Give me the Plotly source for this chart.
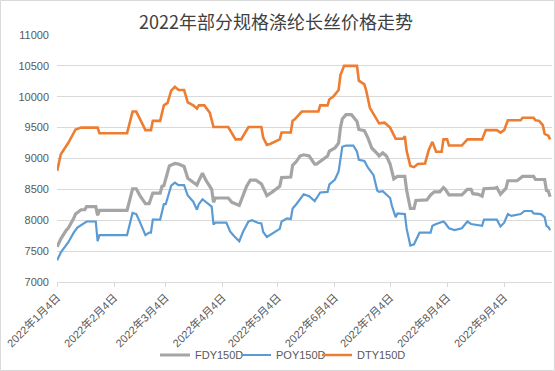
import plotly.graph_objects as go

YEAR = "2022-"

FDY_DATES = ["01-04","01-06","01-09","01-10","01-13","01-14","01-17","01-19","01-20","01-25","01-26","01-27",
             "02-11","02-14","02-16","02-18","02-21","02-23","02-25","03-01","03-02","03-03","03-06","03-09",
             "03-11","03-14","03-16","03-18","03-21","03-22","03-24","03-26","03-28","03-29","03-30","03-31",
             "04-07","04-09","04-13","04-14","04-17","04-19","04-22","04-25","04-28","05-01","05-05","05-06",
             "05-11","05-12","05-14","05-16","05-18","05-21","05-24","05-25","05-28","05-31","06-01","06-04",
             "06-06","06-07","06-08","06-10","06-13","06-15","06-16","06-17","06-20","06-22","06-24","06-27",
             "06-28","06-30","07-02","07-04","07-06","07-08","07-12","07-13","07-15","07-17","07-18","07-24",
             "07-26","07-28","07-31","08-02","08-03","08-05","08-12","08-15","08-17","08-18","08-21","08-23",
             "08-24","08-30","08-31","09-02","09-05","09-06","09-11","09-14","09-20","09-21","09-26","09-27",
             "09-28","09-29"]
FDY_VALUES = [7570,7700,7840,7870,8030,8100,8170,8170,8220,8220,8080,8160,
              8160,8510,8510,8400,8270,8270,8440,8440,8550,8560,8880,8920,
              8910,8870,8680,8640,8570,8640,8760,8640,8550,8500,8290,8360,
              8360,8290,8240,8320,8550,8650,8650,8590,8400,8460,8550,8690,
              8700,8890,8950,9040,9060,9040,8910,8910,8980,9040,9120,9170,
              9250,9500,9640,9710,9710,9630,9600,9470,9450,9330,9170,9080,
              9040,9090,9040,8910,8670,8710,8710,8480,8190,8190,8320,8330,
              8410,8460,8460,8530,8500,8410,8410,8500,8500,8430,8420,8390,
              8510,8520,8530,8420,8520,8640,8640,8710,8710,8660,8660,8480,
              8470,8380]

POY_DATES = ["01-04","01-06","01-10","01-13","01-15","01-17","01-20","01-25","01-26","01-27",
             "02-11","02-14","02-16","02-18","02-21","02-23","02-24","02-25","03-01","03-03","03-04",
             "03-07","03-09","03-11","03-14","03-16","03-19","03-21","03-22","03-24","03-26","03-29",
             "03-30","03-31","04-06","04-08","04-10","04-13","04-15","04-18","04-20","04-23","04-25",
             "04-26","04-28","05-01","05-05","05-06","05-09","05-11","05-12","05-14","05-18","05-21",
             "05-24","05-27","05-31","06-01","06-04","06-06","06-07","06-08","06-10","06-14","06-16",
             "06-17","06-20","06-22","06-25","06-27","06-28","06-30","07-04","07-05","07-07","07-08",
             "07-12","07-13","07-15","07-17","07-20","07-26","07-27","07-29","08-02","08-03","08-05",
             "08-08","08-12","08-15","08-17","08-23","08-24","08-31","09-02","09-04","09-06","09-08",
             "09-13","09-15","09-19","09-20","09-24","09-26","09-27","09-28","09-29"]
POY_VALUES = [7350,7480,7640,7800,7880,7920,7980,7980,7660,7760,
              7760,8120,8100,7970,7760,7800,7800,8010,8010,8260,8260,
              8560,8610,8570,8570,8400,8300,8170,8260,8340,8290,8220,
              7930,7960,7960,7820,7750,7660,7810,7980,8000,7960,7950,
              7810,7730,7780,7860,7980,8030,8020,8190,8260,8420,8390,
              8310,8450,8460,8580,8660,8790,8980,9190,9210,9210,9110,
              8980,8960,8850,8730,8480,8460,8470,8360,8230,8050,8110,
              8100,7860,7590,7610,7800,7800,7910,7940,7980,7950,7870,
              7840,7870,7980,7940,7910,8010,8010,7900,7960,8100,8070,
              8100,8150,8150,8110,8100,8050,7910,7890,7840]

DTY_DATES = ["01-04","01-06","01-10","01-12","01-14","01-17","01-26","01-27","02-11","02-14","02-16",
             "02-19","02-21","02-24","02-25","03-01","03-03","03-05","03-07","03-09","03-11","03-14",
             "03-16","03-19","03-21","03-22","03-25","03-28","03-30","04-07","04-09","04-11","04-14",
             "04-18","04-25","04-26","04-28","04-30","05-05","05-06","05-11","05-12","05-13","05-17",
             "05-26","05-27","05-31","06-01","06-03","06-06","06-07","06-09","06-16","06-17","06-20",
             "06-21","06-23","06-26","06-28","07-01","07-04","07-07","07-11","07-12","07-13","07-15",
             "07-17","07-19","07-23","07-25","07-27","07-29","08-01","08-02","08-04","08-05","08-12",
             "08-15","08-23","08-25","08-31","09-02","09-04","09-06","09-13","09-14","09-20","09-21",
             "09-23","09-25","09-26","09-28","09-29"]
DTY_VALUES = [8800,9070,9250,9370,9470,9500,9500,9410,9410,9760,9760,
              9580,9460,9460,9610,9610,9860,9900,10100,10160,10110,10110,
              9910,9860,9810,9860,9860,9740,9510,9510,9410,9310,9310,
              9510,9510,9340,9220,9240,9310,9420,9420,9610,9630,9760,
              9760,9860,9860,9960,10000,10110,10350,10500,10500,10260,10200,
              10100,9820,9680,9570,9580,9500,9320,9320,9360,9120,8880,
              8860,8910,8920,9140,9270,9110,9110,9310,9310,9210,9210,
              9310,9310,9460,9460,9420,9460,9620,9620,9660,9660,9620,
              9610,9540,9400,9370,9310]

SERIES = [
    ("FDY150D", FDY_DATES, FDY_VALUES, "#A5A5A5", 3.2),
    ("POY150D", POY_DATES, POY_VALUES, "#5B9BD5", 2.2),
    ("DTY150D", DTY_DATES, DTY_VALUES, "#ED7D31", 2.6),
]

TICK_DATES = ["2022-01-04", "2022-02-04", "2022-03-04", "2022-04-04", "2022-05-04",
              "2022-06-04", "2022-07-04", "2022-08-04", "2022-09-04"]

TITLE = "2022年部分规格涤纶长丝价格走势"
FONT = "Liberation Sans, Arial, Noto Sans CJK SC, sans-serif"

fig = go.Figure()
for name, dates, vals, color, width in SERIES:
    fig.add_trace(go.Scatter(
        x=[YEAR + d for d in dates], y=vals, name=name, mode="lines",
        line=dict(color=color, width=width, shape="linear"),
        hoverinfo="skip",
    ))
# empty legend spacer so the last legend label is not clipped
fig.add_trace(go.Scatter(x=[None], y=[None], name="", mode="lines",
                         line=dict(color="rgba(0,0,0,0)", width=0), hoverinfo="skip"))

W, H = 555, 371
L, R, T, B = 57, 3, 35, 89
pw, ph = W - L - R, H - T - B

fig.update_layout(
    template="none",
    width=W, height=H,
    margin=dict(l=L, r=R, t=T, b=B, autoexpand=False),
    paper_bgcolor="white", plot_bgcolor="white",
    title=dict(text=TITLE, x=276 / W, xref="container", xanchor="center", y=1 - 23 / H, yref="container",
               yanchor="middle",
               font=dict(family="Noto Sans CJK SC, sans-serif", size=18, color="#404040")),
    showlegend=True,
    legend=dict(orientation="h", x=(155 - L) / pw, xanchor="left", y=(282 - 355) / ph,
                yanchor="middle", bgcolor="rgba(0,0,0,0)",
                font=dict(family=FONT, size=11, color="#595959"), itemwidth=30,
                entrywidth=36, entrywidthmode="pixels"),
    xaxis=dict(
        type="date", range=["2022-01-03 22:00", "2022-09-30"],
        tickmode="array", tickvals=TICK_DATES, tickformat="%Y年%-m月%-d日",
        tickangle=-45, ticks="outside", ticklen=4, tickcolor="#d9d9d9",
        ticklabeloverflow="allow",
        showline=True, linecolor="#d9d9d9", linewidth=1,
        showgrid=False, zeroline=False, automargin=False,
        tickfont=dict(family=FONT, size=11, color="#595959"),
    ),
    yaxis=dict(
        range=[7000, 11000], dtick=500, tick0=7000, tickformat="d",
        showgrid=True, gridcolor="#d9d9d9", gridwidth=1,
        showline=False, zeroline=False, ticks="", automargin=False,
        ticklabelstandoff=7,
        tickfont=dict(family=FONT, size=11, color="#595959"),
    ),
    shapes=[dict(type="rect", xref="paper", yref="paper",
                 x0=(-L + 0.5) / pw, x1=1 + (R - 0.5) / pw,
                 y0=(-B + 0.5) / ph, y1=1 + (T - 0.5) / ph,
                 line=dict(color="#d9d9d9", width=1), fillcolor="rgba(0,0,0,0)", layer="below")],
)

fig.write_html("out.html", config={"displayModeBar": False},
               post_script="document.body.style.margin='0';")
